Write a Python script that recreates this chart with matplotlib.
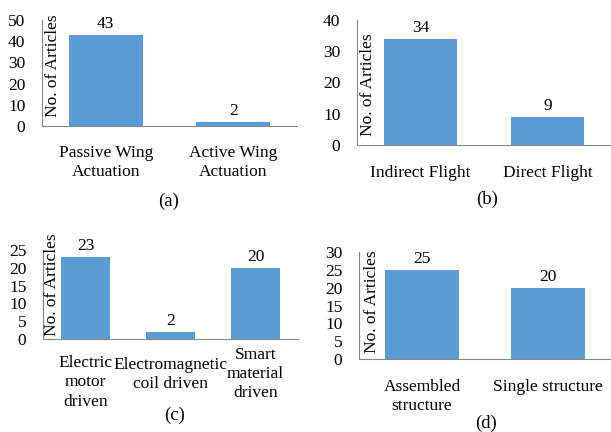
import matplotlib
matplotlib.use("Agg")
import matplotlib.pyplot as plt

plt.rcParams['font.family'] = ['Liberation Serif', 'DejaVu Serif']
plt.rcParams['font.size'] = 12.5

# data for the four panels
cats_a = ["Passive Wing\nActuation", "Active Wing\nActuation"]
vals_a = [43, 2]
ticks_a = [0, 10, 20, 30, 40, 50]

cats_b = ["Indirect Flight", "Direct Flight"]
vals_b = [34, 9]
ticks_b = [0, 10, 20, 30, 40]

cats_c = ["Electric\nmotor\ndriven", "Electromagnetic\ncoil driven", "Smart\nmaterial\ndriven"]
vals_c = [23, 2, 20]
ticks_c = [0, 5, 10, 15, 20, 25]

cats_d = ["Assembled\nstructure", "Single structure"]
vals_d = [25, 20]
ticks_d = [0, 5, 10, 15, 20, 25, 30]

BLUE = "#5B9BD5"
GRAY = "#868686"
W, H = 611, 432


def box(left, right, top, bottom):
    # pixel box -> figure fraction
    return [left / W, 1 - bottom / H, (right - left) / W, (bottom - top) / H]


def panel(fig, rect, cats, vals, ticks, width, lab_off, ylab_pos, letter, letter_pos):
    ax = fig.add_axes(rect)
    x = list(range(len(cats)))
    ax.bar(x, vals, width=width, color=BLUE)
    ax.set_xlim(-0.5, len(cats) - 0.5)
    ax.set_ylim(ticks[0], ticks[-1])
    ax.set_yticks(ticks)
    ax.set_xticks([])
    for s in ["top", "right"]:
        ax.spines[s].set_visible(False)
    for s in ["left", "bottom"]:
        ax.spines[s].set_color(GRAY)
        ax.spines[s].set_linewidth(0.8)
    ax.tick_params(axis="y", length=0, pad=12)

    for xi, v in zip(x, vals):
        ax.annotate(str(v), (xi, v), xytext=(0, 2), textcoords="offset points",
                    ha="center", va="bottom")
    for xi, c, off in zip(x, cats, lab_off):
        ax.annotate(c, (xi, 0), xycoords=("data", "axes fraction"),
                    xytext=(0, -off), textcoords="offset points",
                    ha="center", va="top", linespacing=1.28)

    ax.text(ylab_pos[0], ylab_pos[1], "No. of Articles", transform=ax.transAxes,
            rotation=90, ha="center", va="center")
    fig.text(letter_pos[0] / W, 1 - letter_pos[1] / H, letter,
             ha="center", va="center", fontsize=13.5)
    return ax


fig = plt.figure(figsize=(6.11, 4.32), dpi=100)

panel(fig, box(42, 297, 20, 126), cats_a, vals_a, ticks_a, 0.58,
      [13.5, 13.5], (0.045, 0.57), "(a)", (169, 201))
panel(fig, box(357, 611, 20, 145), cats_b, vals_b, ticks_b, 0.58,
      [14.5, 14.5], (0.045, 0.484), "(b)", (487, 199))
panel(fig, box(43, 298, 250, 339), cats_c, vals_c, ticks_c, 0.57,
      [11.5, 13, 5.5], (0.035, 0.607), "(c)", (175, 415))
panel(fig, box(359, 611, 252, 359), cats_d, vals_d, ticks_d, 0.58,
      [14.5, 14.5], (0.052, 0.537), "(d)", (486, 423))

fig.savefig("out.png", dpi=100)
